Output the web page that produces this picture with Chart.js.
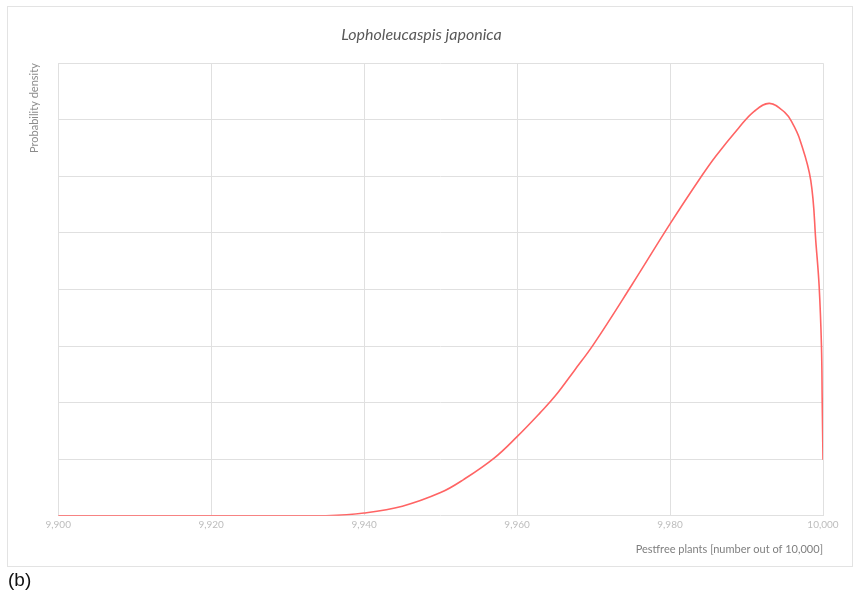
<!DOCTYPE html>
<html>
<head>
<meta charset="utf-8">
<script src="https://cdn.jsdelivr.net/npm/chart.js@4.4.1/dist/chart.umd.min.js"></script>
<style>
  html, body { margin: 0; padding: 0; background: #fff; }
  #wrap { position: relative; width: 858px; height: 596px; }
  #frame { position: absolute; left: 7px; top: 6px; width: 844px; height: 559px; border: 1px solid #e3e3e3; }
  #chartBox { position: absolute; left: 0; top: 0; width: 858px; height: 596px; }
  #label { position: absolute; left: 8px; top: 568px; font: 19px "Liberation Sans", Arial, sans-serif; color: #111; line-height: 24px; }
</style>
</head>
<body>
<div id="wrap">
  <div id="frame"></div>
  <div id="chartBox"><canvas id="chart"></canvas></div>
  <div id="label">(b)</div>
</div>
<script>
// values
const pestfree = [9900, 9910, 9920, 9930, 9935, 9940, 9945, 9950, 9953, 9957, 9960, 9963, 9965, 9967.5, 9970, 9975, 9980, 9984, 9986, 9989, 9991, 9993, 9995, 9996, 9997, 9998.4, 9999.1, 9999.5, 9999.8, 9999.9, 10000];
const density  = [0, 0, 0, 0, 0, 0.05, 0.17, 0.41, 0.64, 1.02, 1.40, 1.82, 2.12, 2.57, 3.03, 4.08, 5.16, 5.98, 6.36, 6.86, 7.15, 7.29, 7.13, 6.94, 6.64, 5.93, 4.78, 4.05, 3.0, 2.0, 0.99];
const xTicks = [9900, 9920, 9940, 9960, 9980, 10000];

const points = pestfree.map((x, i) => ({ x: x, y: density[i] }));

new Chart(document.getElementById('chart'), {
    type: 'line',
    data: {
        datasets: [{
            data: points,
            borderColor: '#ff6464',
            borderWidth: 1.6,
            pointRadius: 0,
            tension: 0.4,
            fill: false
        }]
    },
    options: {
        responsive: true,
        maintainAspectRatio: false,
        animation: false,
        layout: { padding: { left: 20, right: 35, top: 0, bottom: 36 } },
        plugins: {
            legend: { display: false },
            tooltip: { enabled: false },
            title: {
                display: true,
                text: 'Lopholeucaspis japonica',
                color: '#595959',
                font: { family: 'Lato', size: 16, style: 'italic', weight: 'normal' },
                padding: { top: 25, bottom: 19 }
            }
        },
        scales: {
            x: {
                type: 'linear',
                min: 9900,
                max: 10000,
                afterBuildTicks: axis => { axis.ticks = xTicks.map(v => ({ value: v })); },
                grid: { color: '#e0e0e0', drawTicks: false },
                border: { display: false },
                ticks: {
                    color: '#bdbdbd',
                    font: { family: 'Lato', size: 10 },
                    padding: 3,
                    maxRotation: 0,
                    callback: v => v.toLocaleString('en-US')
                },
                title: {
                    display: true,
                    text: 'Pestfree plants [number out of 10,000]',
                    align: 'end',
                    color: '#7f7f7f',
                    font: { family: 'Lato', size: 11 },
                    padding: { top: 9, bottom: 4 }
                }
            },
            y: {
                min: 0,
                max: 8,
                grid: { color: '#e0e0e0', drawTicks: false },
                border: { display: false },
                ticks: { display: false, stepSize: 1 },
                title: {
                    display: true,
                    text: 'Probability density',
                    align: 'end',
                    color: '#8c8c8c',
                    font: { family: 'Lato', size: 11 },
                    padding: { top: 8, bottom: 17 }
                }
            }
        }
    }
});
</script>
</body>
</html>
